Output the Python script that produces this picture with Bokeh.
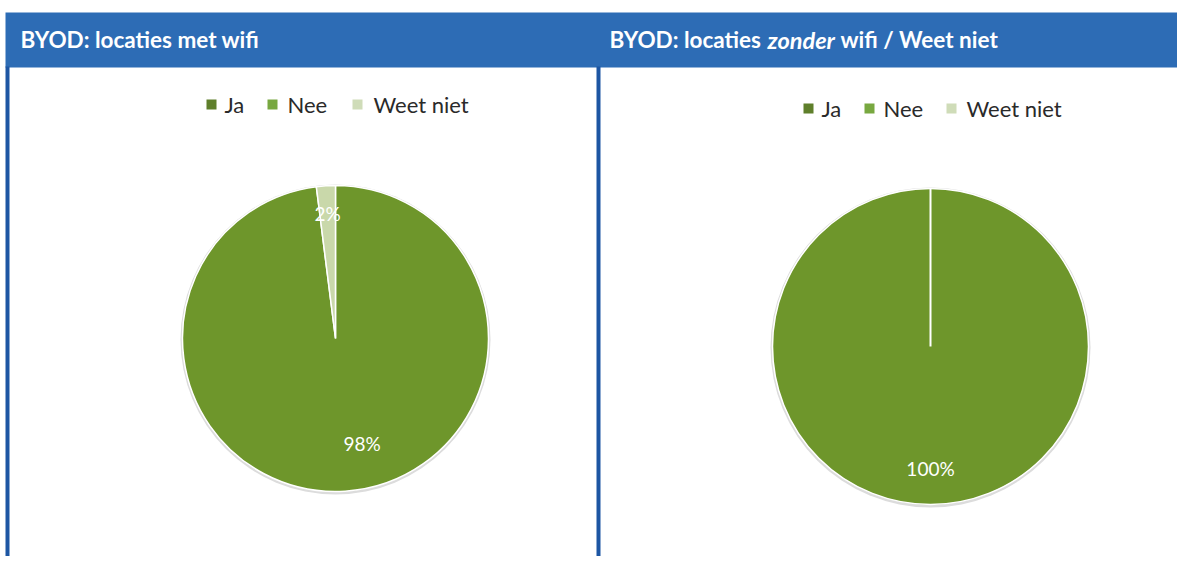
import math
from bokeh.plotting import figure
from bokeh.models import Range1d
from bokeh.core.properties import value
from bokeh.embed import file_html
from bokeh.resources import INLINE

# ---- data ----
categories = ["Ja", "Nee", "Weet niet"]
left_values = [98, 0, 2]
right_values = [100, 0, 0]
left_title = "BYOD: locaties met wifi"
right_title_parts = ["BYOD: locaties", "zonder", "wifi / Weet niet"]

# ---- styles ----
BLUE = "#2d6cb5"
DARKBLUE = "#1d56a3"
slice_colors = ["#6e962b", "#7aab3f", "#c9d8aa"]
legend_colors = ["#5f7f2b", "#78a840", "#cfdcb8"]
FONT = "Lato"

W, H = 1177, 556
p = figure(width=W, height=H, x_range=Range1d(0, W), y_range=Range1d(0, H),
           output_backend="svg", toolbar_location=None, min_border=0,
           x_axis_location=None, y_axis_location=None)
p.grid.visible = False
p.outline_line_color = None
p.background_fill_color = "white"
p.border_fill_color = "white"


def Y(ry):
    return H - ry


# header bar and panel borders
p.quad(left=5, right=W + 5, top=Y(12), bottom=Y(67), fill_color=BLUE, line_color=None)
p.quad(left=5, right=9, top=Y(66), bottom=Y(H + 5), fill_color=DARKBLUE, line_color=None)
p.quad(left=596, right=600, top=Y(66), bottom=Y(H + 5), fill_color=DARKBLUE, line_color=None)

# titles
TS = "22.5px"
p.text(x=[20], y=[Y(39)], text=[left_title], text_font=value(FONT), text_font_style="bold",
       text_font_size=TS, text_color="white", text_baseline="middle", text_align="left")
p.text(x=[609], y=[Y(39)], text=[right_title_parts[0]], text_font=value(FONT), text_font_style="bold",
       text_font_size=TS, text_color="white", text_baseline="middle", text_align="left")
p.text(x=[767], y=[Y(39)], text=[right_title_parts[1]], text_font=value(FONT), text_font_style="bold italic",
       text_font_size="23.5px", text_color="white", text_baseline="middle", text_align="left")
p.text(x=[840], y=[Y(39)], text=[right_title_parts[2]], text_font=value(FONT), text_font_style="bold",
       text_font_size=TS, text_color="white", text_baseline="middle", text_align="left")

panels = [
    dict(values=left_values, cx=335, cy=338, r=153, legend_y=104,
         marker_x=[211, 272, 357], text_x=[224, 287, 373], label_f=[0.69, 0.7, 0.82],
         label_dx=[20, 0, 0]),
    dict(values=right_values, cx=930, cy=346, r=158, legend_y=108,
         marker_x=[808, 869, 951], text_x=[821, 883, 966], label_f=[0.77, 0.7, 0.8],
         label_dx=[0, 0, 0]),
]

for pn in panels:
    cx, cy, r = pn["cx"], Y(pn["cy"]), pn["r"]
    vals = pn["values"]
    total = float(sum(vals))
    # soft rim
    p.circle(x=[cx], y=[cy - 1], radius=r + 2, radius_units="screen",
             fill_color="#dcdcdc", line_color=None)
    ang = 90.0
    for i, v in enumerate(vals):
        if v <= 0:
            continue
        sweep = 360.0 * v / total
        if v == total:
            p.circle(x=[cx], y=[cy], radius=r, radius_units="screen",
                     fill_color=slice_colors[i], line_color="white", line_width=1.5)
            p.segment(x0=[cx], y0=[cy], x1=[cx], y1=[cy + r], line_color="white", line_width=2)
        else:
            p.wedge(x=[cx], y=[cy], radius=r, radius_units="screen",
                    start_angle=ang, end_angle=ang - sweep, start_angle_units="deg",
                    end_angle_units="deg", direction="clock",
                    fill_color=slice_colors[i], line_color="white", line_width=1.5)
        mid = math.radians(ang - sweep / 2)
        f = pn["label_f"][i]
        p.text(x=[cx + f * r * math.cos(mid) + pn["label_dx"][i]], y=[cy + f * r * math.sin(mid)],
               text=["%d%%" % round(100 * v / total)], text_font=value(FONT),
               text_font_size="19px", text_color="white", text_align="center",
               text_baseline="middle")
        ang -= sweep

    # legend
    ly = Y(pn["legend_y"])
    p.scatter(x=pn["marker_x"], y=[ly] * 3, marker="square", size=10,
              fill_color=legend_colors, line_color=None)
    p.text(x=pn["text_x"], y=[ly] * 3, text=categories, text_font=value(FONT),
           text_font_size="22px", text_color="#2a2a2a", text_align="left", text_baseline="middle")

open("out.html", "w").write(file_html(p, INLINE))
